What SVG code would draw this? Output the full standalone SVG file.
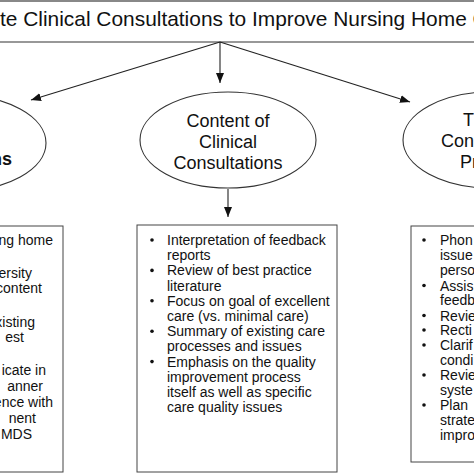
<svg xmlns="http://www.w3.org/2000/svg" width="474" height="474" viewBox="0 0 474 474">
<style>
text{font-family:"Liberation Sans",Arial,sans-serif;fill:#111}
.t{font-size:20.9px}
.e{font-size:18px;text-anchor:middle}
.b{font-size:14px}
.r{text-anchor:end}
.ln{stroke:#222;stroke-width:1.1;fill:none}
.shape{fill:#fff;stroke:#333;stroke-width:1.1}
.box{fill:#fff;stroke:#444;stroke-width:1}
.dot{fill:#111}
</style>
<defs>
<marker id="ah" viewBox="0 0 10 10" refX="10" refY="5" markerWidth="10" markerHeight="10" markerUnits="userSpaceOnUse" orient="auto">
<path d="M0,1 L10,5 L0,9 Z" fill="#111"/>
</marker>
</defs>
<rect width="474" height="474" fill="#fff"/>
<g id="title">
<rect x="0" y="0" width="474" height="2" fill="#888"/>
<line x1="0" y1="42" x2="474" y2="42" stroke="#333" stroke-width="1.2"/>
<text class="t" x="0" y="26">te Clinical Consultations to Improve Nursing Home C</text>
</g>
<g id="connectors">
<line class="ln" x1="220" y1="42" x2="31" y2="100" marker-end="url(#ah)"/>
<line class="ln" x1="220" y1="42" x2="220" y2="83" marker-end="url(#ah)"/>
<line class="ln" x1="220" y1="42" x2="410" y2="102" marker-end="url(#ah)"/>
<line class="ln" x1="228" y1="189" x2="228" y2="217" marker-end="url(#ah)"/>
</g>
<g id="left-ellipse">
<ellipse class="shape" cx="-42" cy="143" rx="88" ry="48"/>
<text class="e r" x="12" y="165" style="font-weight:bold;text-anchor:end">ns</text>
</g>
<g id="center-ellipse">
<ellipse class="shape" cx="228" cy="140" rx="88" ry="48"/>
<text class="e" x="228" y="127">Content of</text>
<text class="e" x="228" y="148">Clinical</text>
<text class="e" x="228" y="169">Consultations</text>
</g>
<g id="right-ellipse">
<ellipse class="shape" cx="491" cy="140" rx="88" ry="48"/>
<text class="e" x="463" y="126" style="text-anchor:start">T</text>
<text class="e" x="441" y="147" style="text-anchor:start">Con</text>
<text class="e" x="460" y="168" style="text-anchor:start">Pr</text>
</g>
<g id="left-box">
<rect class="box" x="-10" y="226" width="73" height="246"/>
<g class="b r">
<text x="53" y="245">ng home</text>
<text x="32" y="277.5">ersity</text>
<text x="42" y="293">content</text>
<text x="35" y="326.5">xisting</text>
<text x="24" y="341.5">est</text>
<text x="46" y="375">icate in</text>
<text x="43" y="391">anner</text>
<text x="53" y="406.5">ence with</text>
<text x="36" y="423">nent</text>
<text x="32" y="439">MDS</text>
</g>
</g>
<g id="center-box">
<rect class="box" x="137" y="225" width="200" height="247"/>
<g class="b">
<text x="167" y="245">Interpretation of feedback</text>
<text x="167" y="260.2">reports</text>
<text x="167" y="275.4">Review of best practice</text>
<text x="167" y="290.6">literature</text>
<text x="167" y="305.8">Focus on goal of excellent</text>
<text x="167" y="321">care (vs. minimal care)</text>
<text x="167" y="336.2">Summary of existing care</text>
<text x="167" y="351.4">processes and issues</text>
<text x="167" y="366.6">Emphasis on the quality</text>
<text x="167" y="381.8">improvement process</text>
<text x="167" y="397">itself as well as specific</text>
<text x="167" y="412.2">care quality issues</text>
</g>
<circle class="dot" cx="152" cy="240" r="1.8"/>
<circle class="dot" cx="152" cy="270.4" r="1.8"/>
<circle class="dot" cx="152" cy="300.8" r="1.8"/>
<circle class="dot" cx="152" cy="331.2" r="1.8"/>
<circle class="dot" cx="152" cy="361.6" r="1.8"/>
</g>
<g id="right-box">
<rect class="box" x="411" y="226" width="80" height="236"/>
<g class="b">
<text x="440" y="245">Phon</text>
<text x="440" y="260">issue</text>
<text x="440" y="275">perso</text>
<text x="440" y="290.5">Assis</text>
<text x="440" y="305">feedb</text>
<text x="440" y="320.5">Revie</text>
<text x="440" y="335">Recti</text>
<text x="440" y="350">Clarif</text>
<text x="440" y="365">condi</text>
<text x="440" y="380">Revie</text>
<text x="440" y="394.5">syste</text>
<text x="440" y="410">Plan</text>
<text x="440" y="425">strate</text>
<text x="440" y="440">impro</text>
</g>
<circle class="dot" cx="424" cy="240" r="1.8"/>
<circle class="dot" cx="424" cy="285.5" r="1.8"/>
<circle class="dot" cx="424" cy="315.5" r="1.8"/>
<circle class="dot" cx="424" cy="330" r="1.8"/>
<circle class="dot" cx="424" cy="345" r="1.8"/>
<circle class="dot" cx="424" cy="375" r="1.8"/>
<circle class="dot" cx="424" cy="405" r="1.8"/>
</g>
</svg>
